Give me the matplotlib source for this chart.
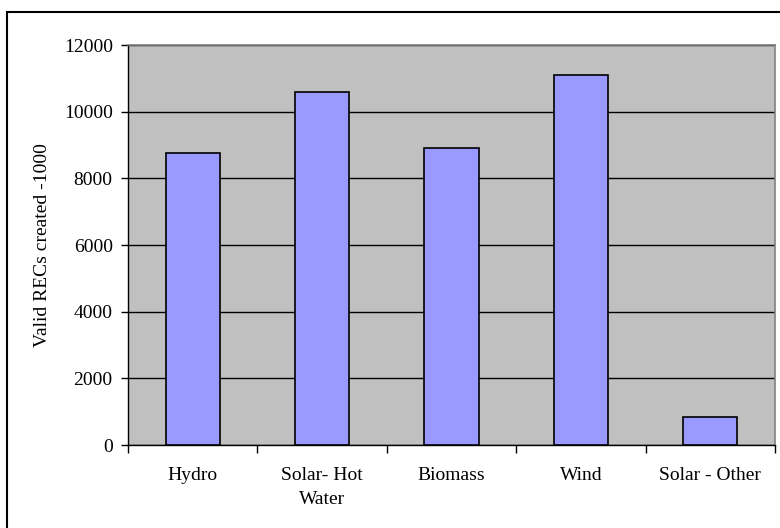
import matplotlib
matplotlib.use('Agg')
import matplotlib.pyplot as plt
from matplotlib.patches import Rectangle
import numpy as np

categories = ['Hydro', 'Solar- Hot\nWater', 'Biomass', 'Wind', 'Solar - Other']
values = [8750, 10600, 8900, 11100, 850]
y_ticks = [0, 2000, 4000, 6000, 8000, 10000, 12000]

plt.rcParams['font.family'] = ['Liberation Serif', 'DejaVu Serif']
plt.rcParams['font.size'] = 14


def plot():
    fig = plt.figure(figsize=(7.8, 5.28), dpi=100)
    ax = fig.add_axes([128 / 780, 83 / 528, 647 / 780, 400 / 528])
    ax.set_facecolor('#c0c0c0')

    x = np.arange(len(categories))
    ax.bar(x, values, width=0.42, color='#9999ff', edgecolor='black',
           linewidth=1.2, zorder=3)

    ax.set_xlim(-0.5, len(categories) - 0.5)
    ax.set_ylim(0, 12000)
    ax.set_yticks(y_ticks)
    ax.yaxis.grid(True, color='black', linewidth=1.0, zorder=0)
    ax.set_axisbelow(True)

    # category labels centred under the bars, ticks between categories
    ax.set_xticks(x)
    ax.set_xticklabels(categories, linespacing=1.55)
    ax.set_xticks(np.arange(-0.5, len(categories)), minor=True)
    ax.tick_params(axis='x', which='major', length=0, pad=16)
    ax.tick_params(axis='x', which='minor', length=6, width=1, direction='out')
    ax.tick_params(axis='y', length=5, width=1, direction='out', pad=6)

    for side in ('top', 'right'):
        ax.spines[side].set_color('#808080')
        ax.spines[side].set_linewidth(1.2)
    for side in ('left', 'bottom'):
        ax.spines[side].set_color('black')
        ax.spines[side].set_linewidth(1.0)

    ax.set_ylabel('Valid RECs created -1000', labelpad=9)

    # outer chart frame
    fig.patches.append(Rectangle((7 / 780, -0.1), 2.0, 1 - 12 / 528 + 0.1,
                                 transform=fig.transFigure, fill=False,
                                 edgecolor='black', linewidth=1.5))
    return fig


if __name__ == '__main__':
    fig = plot()
    fig.savefig('out.png', dpi=100)
